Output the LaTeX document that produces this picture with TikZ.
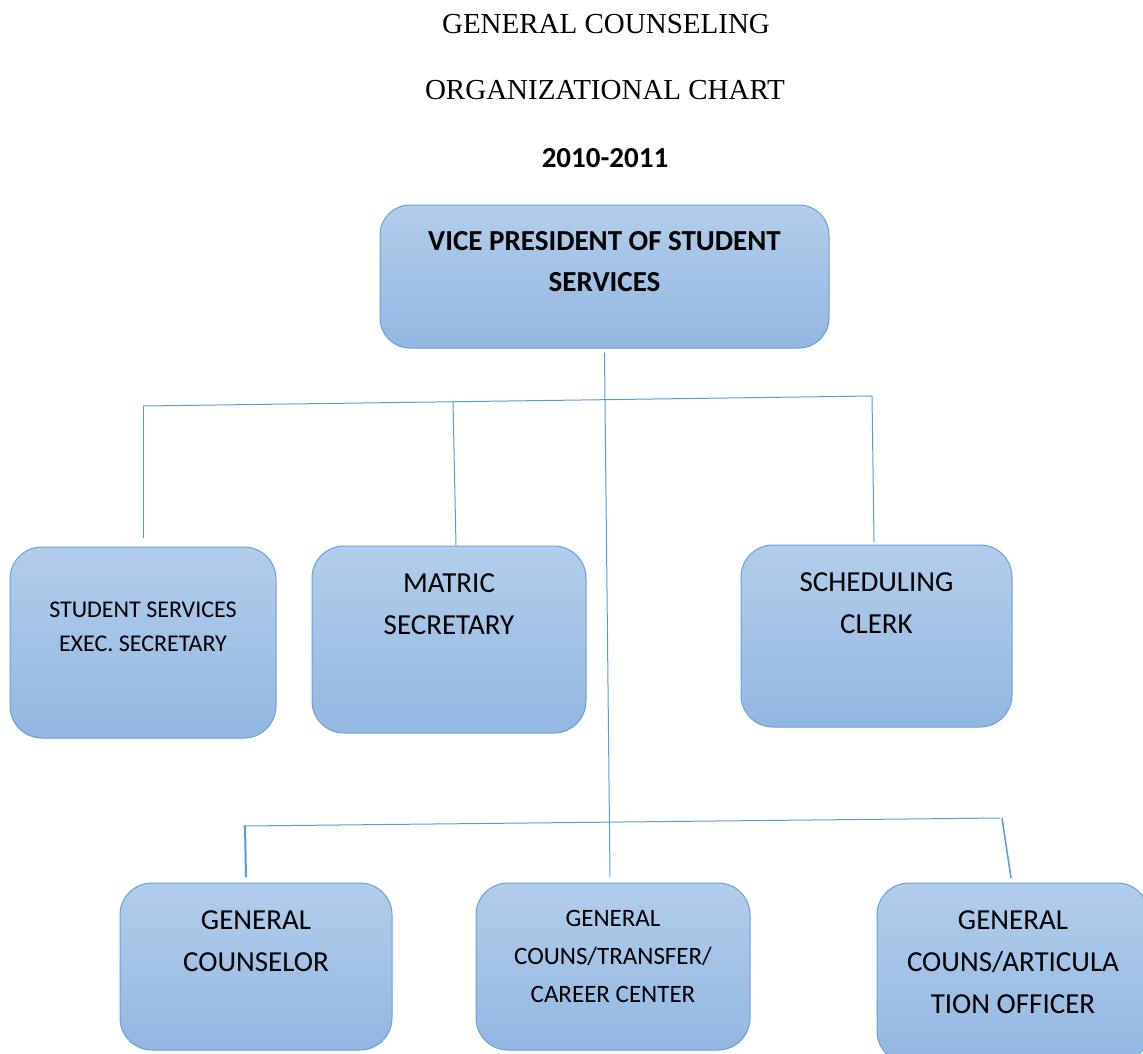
\documentclass[tikz,border=0pt]{standalone}
\usepackage{fontspec}
\setmainfont{Carlito}
\newfontfamily\titlefont{Liberation Serif}
\usetikzlibrary{positioning}
\definecolor{boxtop}{HTML}{B3CDEB}
\definecolor{boxbot}{HTML}{93B7E2}
\definecolor{boxline}{HTML}{6A9FD8}
\definecolor{wireblue}{HTML}{5B9BD5}
\tikzset{
	post/.style={rectangle, rounded corners=32pt, draw=boxline, line width=1pt, top color=boxtop, bottom color=boxbot, inner sep=0pt},
	postname/.style={align=center, inner sep=0pt, font=\fontsize{29}{42}\selectfont},
	wire/.style={draw=wireblue, line width=1pt},
	heading/.style={inner sep=0pt, font=\titlefont\fontsize{29}{35}\selectfont}
}
\begin{document}
\begin{tikzpicture}[x=1pt, y=-1pt]
			\useasboundingbox (0,0) rectangle (1143,1053);
			%% titles
			\node[heading] (title) at (606,24) {GENERAL COUNSELING};
			\node[heading] (subtitle) at (605,90) {ORGANIZATIONAL CHART};
			\node[heading, font=\bfseries\fontsize{29}{35}\selectfont] (year) at (605,158) {2010-2011};
			%% boxes
			\node[post, minimum width=449pt, minimum height=143pt, rounded corners=30pt] (vp) at (604.5,276.5) {};
			\node[postname, font=\bfseries\fontsize{29}{41}\selectfont] (vp text) at ([yshift=-57.5pt]vp.north) {VICE PRESIDENT OF STUDENT\\SERVICES};
			%%
			\node[post, minimum width=266pt, minimum height=191pt] (ss) at (143,642.5) {};
			\node[postname, font=\fontsize{24}{34}\selectfont] (ss text) at ([yshift=-80pt]ss.north) {STUDENT SERVICES\\EXEC. SECRETARY};
			\node[post, minimum width=274pt, minimum height=187pt] (matric) at (449,639.5) {};
			\node[postname] (matric text) at ([yshift=-59pt]matric.north) {MATRIC\\SECRETARY};
			\node[post, minimum width=271pt, minimum height=182pt] (sched) at (876.5,636) {};
			\node[postname] (sched text) at ([yshift=-59pt]sched.north) {SCHEDULING\\CLERK};
			%%
			\node[post, minimum width=272pt, minimum height=167pt] (gc) at (256,966.5) {};
			\node[postname] (gc text) at ([yshift=-59pt]gc.north) {GENERAL\\COUNSELOR};
			\node[post, minimum width=274pt, minimum height=167pt] (trans) at (613,966.5) {};
			\node[postname, font=\fontsize{25}{38}\selectfont] (trans text) at ([yshift=-74pt]trans.north) {GENERAL\\COUNS/TRANSFER/\\CAREER CENTER};
			\node[post, minimum width=272pt, minimum height=180pt] (artic) at (1013,973) {};
			\node[postname] (artic text) at ([yshift=-80pt]artic.north) {GENERAL\\COUNS/ARTICULA\\TION OFFICER};
			%% upper bus
			\coordinate (top bus w) at (143,406);
			\coordinate (top bus e) at (872,396);
			\coordinate (matric drop) at (453,402);
			\coordinate (ss end) at (143,538);
			\coordinate (sched end) at (874,542);
			\draw[wire] (top bus w) -- (top bus e);
			\draw[wire] (top bus w) -- (ss end);
			\draw[wire] (matric drop) -- ([xshift=7pt]matric.north);
			\draw[wire] (top bus e) -- (sched end);
			%% lower bus
			\coordinate (low bus w) at (243,826);
			\coordinate (low bus e) at (1000,818);
			\coordinate (gc end) at (246,877);
			\coordinate (artic end) at (1011,878);
			\draw[wire] (low bus w) -- (low bus e);
			\draw[wire, line width=2pt] ([xshift=2pt]low bus w) -- (gc end);
			\draw[wire, line width=1.5pt] ([xshift=2pt]low bus e) -- (artic end);
			%% trunk
			\draw[wire] ([yshift=-4pt]vp.south) -- ([xshift=-3pt, yshift=6pt]trans.north);
		\end{tikzpicture}
\end{document}
